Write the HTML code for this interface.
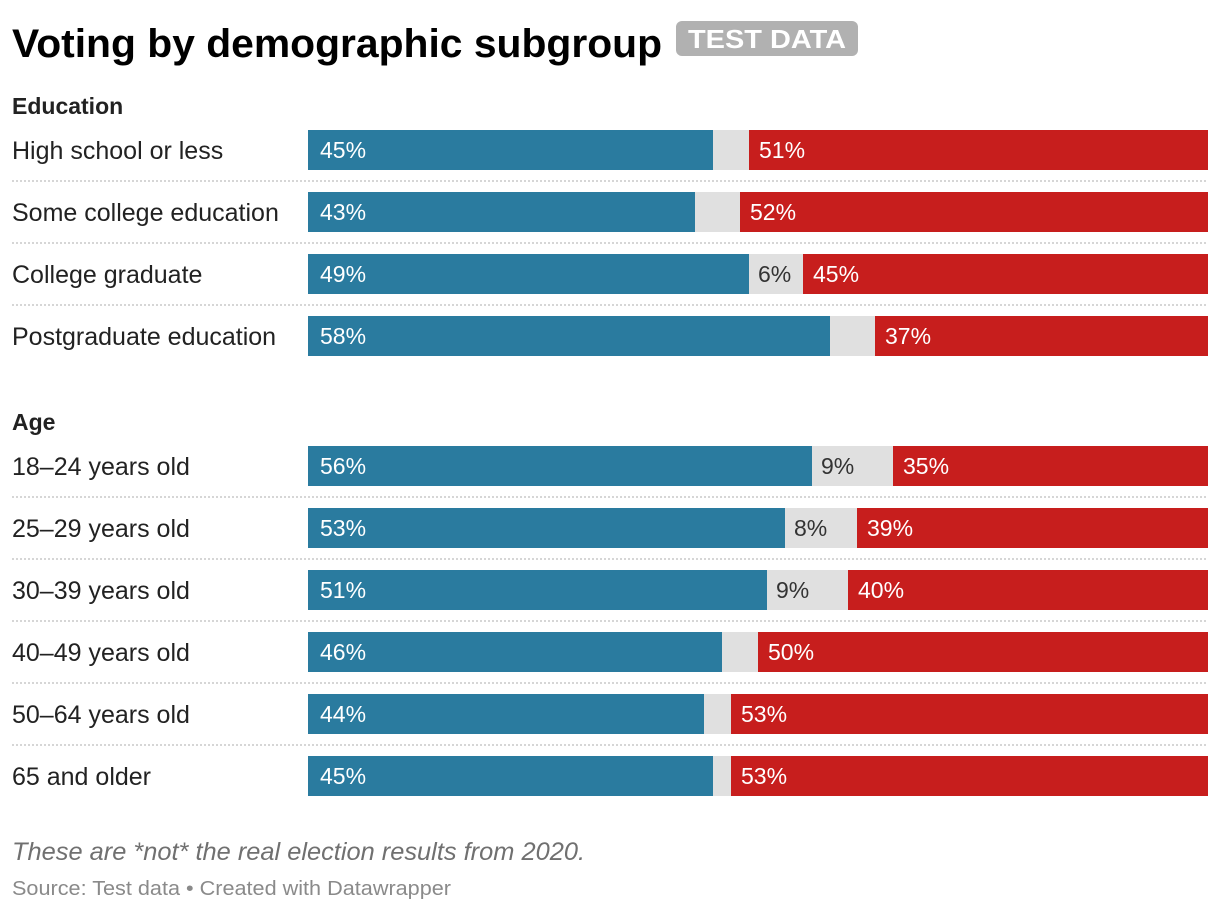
<!DOCTYPE html>
<html><head><meta charset="utf-8"><style>
body{margin:0;background:#fff;width:1220px;height:912px;overflow:hidden;font-family:"Liberation Sans",sans-serif}
</style></head><body>
<svg id="c" width="1220" height="912" xmlns="http://www.w3.org/2000/svg">
<text x="12" y="57" font-size="40" font-weight="bold" fill="#000" textLength="650" lengthAdjust="spacingAndGlyphs">Voting by demographic subgroup</text>
<rect x="676" y="21" width="182" height="35" rx="6" fill="#b1b1b1"/>
<text x="767" y="48" font-size="26" font-weight="bold" fill="#fff" text-anchor="middle" textLength="158" lengthAdjust="spacingAndGlyphs">TEST DATA</text>
<text x="12" y="114" font-size="23" font-weight="bold" fill="#222">Education</text>
<text x="12" y="430" font-size="23" font-weight="bold" fill="#222">Age</text>
<text x="12" y="860" font-size="25" font-style="italic" fill="#707070" textLength="573" lengthAdjust="spacingAndGlyphs">These are *not* the real election results from 2020.</text>
<text x="12" y="895" font-size="20" fill="#8a8a8a" textLength="439" lengthAdjust="spacingAndGlyphs">Source: Test data • Created with Datawrapper</text>
<g id="bars"></g>
</svg>
<script>
const categories = ["High school or less","Some college education","College graduate","Postgraduate education","18–24 years old","25–29 years old","30–39 years old","40–49 years old","50–64 years old","65 and older"];
const blueValues = [45,43,49,58,56,53,51,46,44,45];
const redValues = [51,52,45,37,35,39,40,50,53,53];
const rowCenters = [150,212,274,336,466,528,590,652,714,776];
const NS="http://www.w3.org/2000/svg";
const g=document.getElementById('bars');
const x0=308,W=900;
const xs=v=>v/100*W;
function mk(tag,attrs){const e=document.createElementNS(NS,tag);for(const k in attrs)e.setAttribute(k,attrs[k]);g.appendChild(e);return e;}
categories.forEach((c,i)=>{
  const y=rowCenters[i];
  const b=blueValues[i],r=redValues[i],gr=100-b-r;
  const lab=mk('text',{x:12,y:y+9,'font-size':25,fill:'#222'});lab.textContent=c;
  
  
  const bg=mk('rect',{x:x0,y:y-20,width:W,height:40,fill:'#e0e0e0'});
  
  
  const bb=mk('rect',{x:x0,y:y-20,width:xs(b),height:40,fill:'#2a7b9f'});
  
  
  const rb=mk('rect',{x:x0+W-xs(r),y:y-20,width:xs(r),height:40,fill:'#c71e1d'});
  
  
  const bt=mk('text',{x:x0+12,y:y+8,'font-size':23,fill:'#fff'});bt.textContent=b+'%';
  
  
  const rt=mk('text',{x:x0+W-xs(r)+10,y:y+8,'font-size':23,fill:'#fff'});rt.textContent=r+'%';
  
  
  if(gr>=6){const gt=mk('text',{x:x0+xs(b)+9,y:y+8,'font-size':23,fill:'#333'});gt.textContent=gr+'%';
    
    }
  if(i!==3&&i!==9){const ln=mk('line',{x1:12,x2:1208,y1:y+31,y2:y+31,stroke:'#c8c8c8','stroke-width':1.5,'stroke-dasharray':'2,2'});
    
    }
});
</script>
</body></html>
